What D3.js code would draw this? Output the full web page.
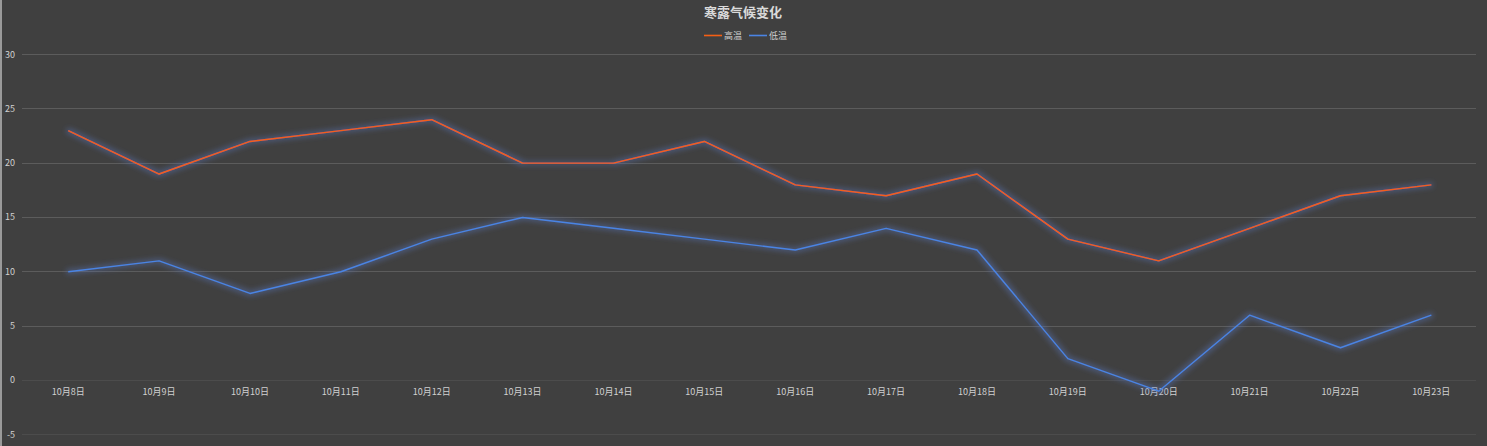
<!DOCTYPE html>
<html><head><meta charset="utf-8">
<script src="https://cdn.jsdelivr.net/npm/d3@7/dist/d3.min.js"></script>
<style>html,body{margin:0;padding:0;background:#404040;overflow:hidden}</style>
</head><body>
<svg id="c" width="1487" height="446"></svg>
<script>
const categories = ["10月8日","10月9日","10月10日","10月11日","10月12日","10月13日","10月14日","10月15日","10月16日","10月17日","10月18日","10月19日","10月20日","10月21日","10月22日","10月23日"];
const highTemps = [23,19,22,23,24,20,20,22,18,17,19,13,11,14,17,18];
const lowTemps = [10,11,8,10,13,15,14,13,12,14,12,2,-1,6,3,6];
const yTicks = [-5,0,5,10,15,20,25,30];
const seriesNames = ["高温","低温"];
const colors = ["#f55f14","#4a84e4"];
const title = "寒露气候变化";

const svg = d3.select("#c");
const W = 1487, H = 446;
svg.append("rect").attr("width",W).attr("height",H).attr("fill","#404040");
svg.append("rect").attr("x",0).attr("y",0).attr("width",2).attr("height",H).attr("fill","#9a9a9a");

const defs = svg.append("defs");
const f = defs.append("filter").attr("id","glow").attr("x","-10%").attr("y","-50%").attr("width","120%").attr("height","200%");
f.append("feMorphology").attr("in","SourceAlpha").attr("operator","dilate").attr("radius",1.5).attr("result","d");
f.append("feGaussianBlur").attr("in","d").attr("stdDeviation",2.8).attr("result","b");
f.append("feFlood").attr("flood-color","#5670b0").attr("flood-opacity",0.45).attr("result","c");
f.append("feComposite").attr("in","c").attr("in2","b").attr("operator","in").attr("result","g");
const m = f.append("feMerge");
m.append("feMergeNode").attr("in","g");
m.append("feMergeNode").attr("in","SourceGraphic");

const x = d3.scaleBand().domain(categories).range([22.8,1476.8]);
const y = d3.scaleLinear().domain([-5,30]).range([434.6,54.6]);

const font = "'Microsoft YaHei','Noto Sans CJK SC',sans-serif";

// gridlines
svg.append("g").selectAll("line").data(yTicks).join("line")
  .attr("x1",22).attr("x2",1476)
  .attr("y1",d=>Math.floor(y(d))+0.5).attr("y2",d=>Math.floor(y(d))+0.5)
  .attr("stroke",d=>d<=0?"#4c4c4c":"#5c5c5c").attr("stroke-width",1);

// y labels
svg.append("g").selectAll("text").data(yTicks).join("text")
  .attr("x",15).attr("y",d=>y(d)+3)
  .attr("text-anchor","end").attr("fill","#d0d0d0")
  .style("font-family",font).style("font-size","9px")
  .text(d=>d);

// x labels
svg.append("g").selectAll("text").data(categories).join("text")
  .attr("x",d=>x(d)+x.bandwidth()/2).attr("y",395)
  .attr("text-anchor","middle").attr("fill","#d0d0d0")
  .style("font-family",font).style("font-size","9px")
  .text(d=>d);

const line = d3.line().x((d,i)=>x(categories[i])+x.bandwidth()/2).y(d=>y(d));
[highTemps,lowTemps].forEach((s,k)=>{
  svg.append("path").datum(s).attr("d",line).attr("fill","none")
    .attr("stroke",colors[k]).attr("stroke-width",1.4)
    .attr("stroke-linejoin","round").attr("filter","url(#glow)");
});

// title
svg.append("text").attr("x",743).attr("y",17).attr("text-anchor","middle")
  .attr("fill","#d9d9d9").style("font-family",font).style("font-size","13px").style("font-weight","bold")
  .text(title);

// legend
const lg = [{x:704},{x:749}];
seriesNames.forEach((n,k)=>{
  svg.append("line").attr("x1",lg[k].x).attr("x2",lg[k].x+18).attr("y1",35.5).attr("y2",35.5)
    .attr("stroke",colors[k]).attr("stroke-width",1.6);
  svg.append("text").attr("x",lg[k].x+20).attr("y",39).attr("fill","#d0d0d0")
    .style("font-family",font).style("font-size","9px").text(n);
});
</script>
</body></html>
